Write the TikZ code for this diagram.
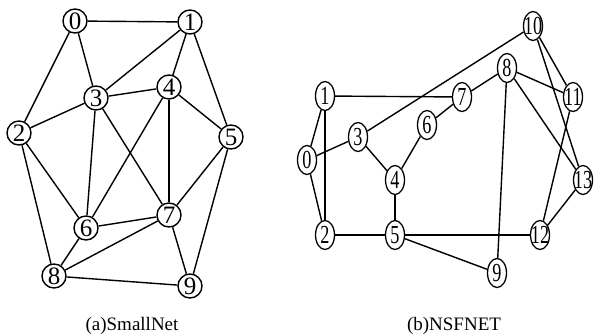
\documentclass[tikz,border=0pt]{standalone}
\usepackage{fontspec}
\setmainfont{Liberation Serif}
\newfontfamily\narrowserif[FakeStretch=0.7]{Liberation Serif}
\usepackage{tikz}
\usetikzlibrary{shapes.geometric}

\begin{document}
\begin{tikzpicture}[x=1pt, y=-1pt,
			snode/.style={circle, draw=black, line width=1.4pt, inner sep=0pt, minimum size=24pt, font=\fontsize{25}{25}\selectfont},
			nnode/.style={ellipse, draw=black, line width=1.3pt, inner xsep=-2.5pt, inner ysep=1pt, minimum width=19pt, minimum height=29pt, font=\narrowserif\fontsize{26}{26}\selectfont},
			link/.style={line width=1.4pt, black},
			caption/.style={anchor=base, font=\fontsize{19}{19}\selectfont}
		]
		\useasboundingbox (0,0) rectangle (599,333);

		% SmallNet
		\node[snode] (s0) at (75,21) {0};
		\node[snode] (s1) at (190,22) {1};
		\node[snode] (s2) at (19,133) {2};
		\node[snode] (s3) at (96,98) {3};
		\node[snode] (s4) at (169,87) {4};
		\node[snode] (s5) at (231,137) {5};
		\node[snode] (s6) at (86,228) {6};
		\node[snode] (s7) at (169,215) {7};
		\node[snode] (s8) at (54,276) {8};
		\node[snode] (s9) at (190,286) {9};
		\node[caption] (capa) at (132,330) {(a)SmallNet};

		% SmallNet links
		\draw[link] (s0) -- (s1);
		\draw[link] (s0) -- (s2);
		\draw[link] (s0) -- (s3);
		\draw[link] (s1) -- (s3);
		\draw[link] (s1) -- (s4);
		\draw[link] (s1) -- (s5);
		\draw[link] (s2) -- (s3);
		\draw[link] (s2) -- (s6);
		\draw[link] (s2) -- (s8);
		\draw[link] (s3) -- (s4);
		\draw[link] (s3) -- (s6);
		\draw[link] (s3) -- (s7);
		\draw[link] (s4) -- (s5);
		\draw[link] (s4) -- (s6);
		\draw[link] (s4) -- (s7);
		\draw[link] (s5) -- (s7);
		\draw[link] (s5) -- (s9);
		\draw[link] (s6) -- (s7);
		\draw[link] (s6) -- (s8);
		\draw[link] (s7) -- (s8);
		\draw[link] (s7) -- (s9);
		\draw[link] (s8) -- (s9);

		% NSFNET
		\node[nnode] (n0) at (307,160) {0};
		\node[nnode] (n1) at (325,96) {1};
		\node[nnode] (n2) at (325,235) {2};
		\node[nnode] (n3) at (358,137) {3};
		\node[nnode] (n4) at (395,180) {4};
		\node[nnode] (n5) at (395,235) {5};
		\node[nnode] (n6) at (427,125) {6};
		\node[nnode] (n7) at (462,97) {7};
		\node[nnode] (n8) at (507,68) {8};
		\node[nnode] (n9) at (497,273) {9};
		\node[nnode] (n10) at (533,26) {10};
		\node[nnode] (n11) at (573,97) {11};
		\node[nnode] (n12) at (540,235) {12};
		\node[nnode] (n13) at (583,180) {13};
		\node[caption] (capb) at (454,330) {(b)NSFNET};

		% NSFNET links
		\draw[link] (n0) -- (n1);
		\draw[link] (n0) -- (n2);
		\draw[link] (n0) -- (n3);
		\draw[link] (n1) -- (n2);
		\draw[link] (n1) -- (n7);
		\draw[link] (n3) -- (n10);
		\draw[link] (n3) -- (n4);
		\draw[link] (n4) -- (n6);
		\draw[link] (n6) -- (n7);
		\draw[link] (n7) -- (n8);
		\draw[link] (n4) -- (n5);
		\draw[link] (n2) -- (n5);
		\draw[link] (n5) -- (n12);
		\draw[link] (n5) -- (n9);
		\draw[link] (n8) -- (n9);
		\draw[link] (n8) -- (n11);
		\draw[link] (n8) -- (n13);
		\draw[link] (n10) -- (n11);
		\draw[link] (n10) -- (n13);
		\draw[link] (n11) -- (n12);
		\draw[link] (n12) -- (n13);

	\end{tikzpicture}
\end{document}
